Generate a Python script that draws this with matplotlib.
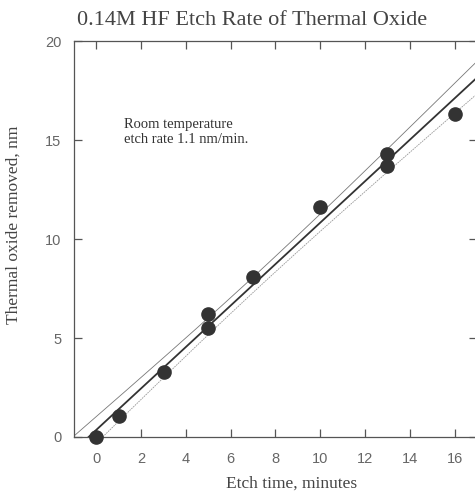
import numpy as np
import matplotlib.pyplot as plt

# Etch time (min) and oxide removed (nm)
tiempo = np.array([0, 1, 3, 5, 5, 7, 10, 13, 13, 16], dtype=float)
removido = np.array([0.0, 1.05, 3.3, 6.2, 5.5, 8.1, 11.6, 14.3, 13.7, 16.3])

x_ticks = [0, 2, 4, 6, 8, 10, 12, 14, 16]
y_ticks = [0, 5, 10, 15, 20]


def ajuste_lineal(x, y, t=2.306):
    # least squares line plus 95% confidence band of the mean
    n = len(x)
    a1, a0 = np.polyfit(x, y, 1)
    res = y - (a0 + a1 * x)
    s = np.sqrt(np.sum(res ** 2) / (n - 2))
    sxx = np.sum((x - x.mean()) ** 2)
    f = lambda xx: a0 + a1 * xx
    banda = lambda xx: t * s * np.sqrt(1.0 / n + (xx - x.mean()) ** 2 / sxx)
    return f, banda


f, banda = ajuste_lineal(tiempo, removido)

fig = plt.figure(figsize=(4.75, 4.96), dpi=100)
ax = fig.add_axes([0.156, 0.119, 0.848, 0.798])

x_vals = np.linspace(-1, 17, 200)
ax.plot(x_vals, f(x_vals), color='#333333', lw=1.3, zorder=3)
ax.plot(x_vals, f(x_vals) + banda(x_vals), color='#777777', lw=0.6, zorder=2)
ax.plot(x_vals, f(x_vals) - banda(x_vals), color='#999999', lw=0.6, ls=(0, (2, 1)), zorder=2)
ax.plot(tiempo, removido, 'o', color='#333333', ms=9.5, zorder=4, clip_on=False)

ax.set_xlim(-1, 17)
ax.set_ylim(0, 20)
ax.set_xticks(x_ticks)
ax.set_yticks(y_ticks)

for sp in ax.spines.values():
    sp.set_color('#555555')
    sp.set_linewidth(0.9)

ax.tick_params(direction='in', length=6, width=0.9, color='#555555',
               top=True, right=True, labelsize=10.5, labelcolor='#666666')
for lbl in ax.get_xticklabels() + ax.get_yticklabels():
    lbl.set_family('Liberation Sans')
ax.tick_params(axis='x', pad=11)
ax.tick_params(axis='y', pad=9)

serif = 'Liberation Serif'
ax.set_xlabel('Etch time, minutes', family=serif, fontsize=12.5, color='#444444')
ax.xaxis.set_label_coords(0.54, -0.097)
ax.set_ylabel('Thermal oxide removed, nm', family=serif, fontsize=12.5, color='#444444')
ax.yaxis.set_label_coords(-0.13, 0.535)
fig.text(0.162, 0.94, '0.14M HF Etch Rate of Thermal Oxide', family=serif,
         fontsize=16, color='#444444', ha='left', va='bottom')
ax.text(1.25, 14.7, 'Room temperature\netch rate 1.1 nm/min.', family=serif,
        fontsize=10.5, color='#333333', ha='left', va='bottom', linespacing=1.2)

fig.savefig('out.png', dpi=100)
